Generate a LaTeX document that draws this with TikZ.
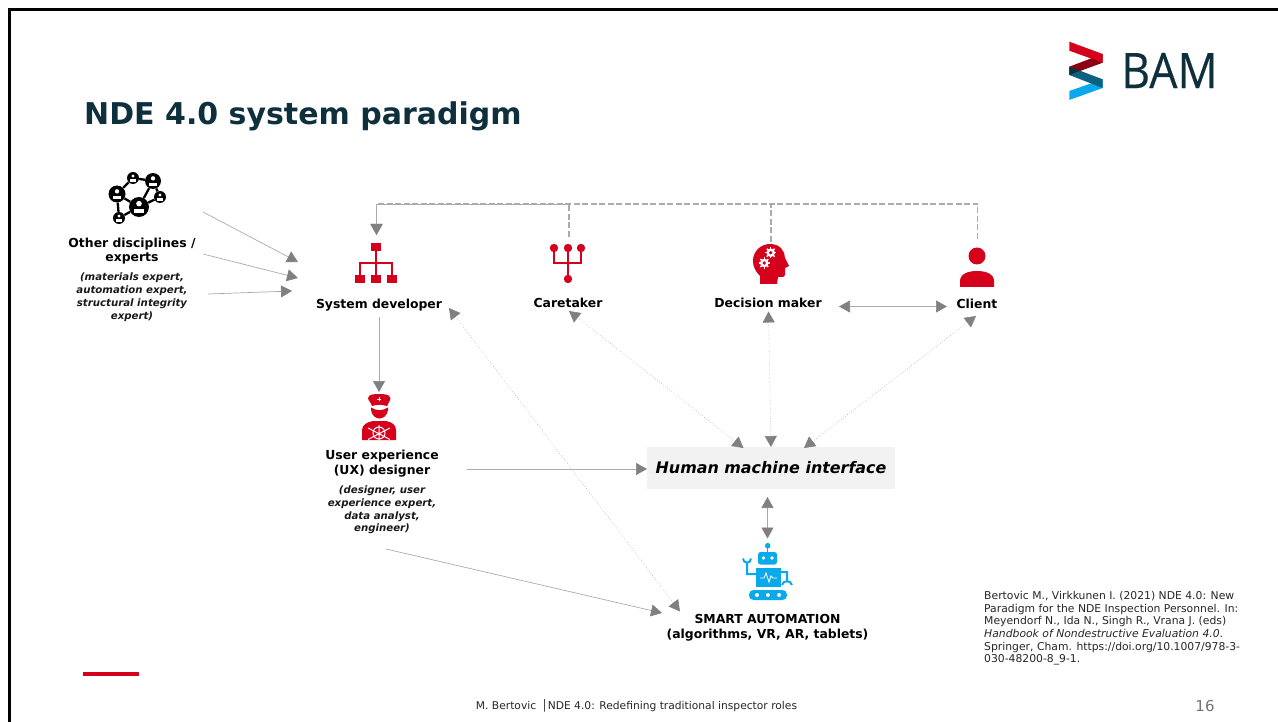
\documentclass[tikz,border=0pt]{standalone}
\usepackage{fontspec}
\setmainfont{DejaVu Sans}
\newfontfamily\logofont[FakeBold=0.3]{Open Sans}
\usetikzlibrary{arrows.meta, positioning}
\definecolor{bamred}{HTML}{D5001C}
\definecolor{bamblue}{HTML}{0AA9EC}
\definecolor{bamdark}{HTML}{0E2F3C}
\definecolor{tipgray}{HTML}{808080}
\definecolor{linegray}{HTML}{ABABAB}
\tikzset{%
    role/.style = {font=\bfseries\fontsize{12.4}{14.5}\selectfont, align=center, inner sep=0pt, text=black},
    sublabel/.style = {font=\bfseries\itshape\fontsize{10.2}{12.8}\selectfont, align=center, inner sep=0pt, text=black!90},
    cite/.style = {font=\fontsize{10.8}{12.7}\selectfont, align=left, inner sep=0pt, text=black!85, anchor=north west},
    foot/.style = {font=\fontsize{10.7}{12}\selectfont, inner sep=0pt, text=black!85},
    solidline/.style = {draw=linegray, line width=0.7pt},
    dotline/.style = {draw=linegray, line width=0.6pt, dotted},
    dashline/.style = {draw=linegray, line width=1.2pt, dash pattern=on 6pt off 2.5pt},
    tip/.tip = {Triangle[length=11pt, width=12pt, color=tipgray]},
    peer/.style = {fill=black, circle, inner sep=0pt, minimum size=#1}
}
\begin{document}
\begin{tikzpicture}[x=1pt, y=-1pt]
    \useasboundingbox (0,0) rectangle (1278,722);
    \draw[line width=3pt, line join=miter] (1278,10) -- (9,10) -- (9,722);
    \fill[bamred] (83,672) rectangle (139,675.6);

    \node [font=\bfseries\fontsize{30}{34}\selectfont, text=bamdark, inner sep=0pt, anchor=west] (title) at (84,116.5) {NDE 4.0 system paradigm};

    % logo
    \fill[bamblue] (1102.7,79.3) -- (1102.7,88) -- (1069.3,100) -- (1069.3,91) -- cycle;
    \fill[bamred!65!black] (1102.7,54) -- (1102.7,62.7) -- (1069.3,75) -- (1069.3,66.7) -- cycle;
    \fill[bamred] (1069.3,41.7) -- (1102.7,54) -- (1102.7,62.7) -- (1069.3,50.7) -- cycle;
    \fill[bamdark!60!bamblue] (1069.3,66.7) -- (1102.7,79.3) -- (1102.7,88) -- (1069.3,75) -- cycle;
    \fill[bamdark] (1069.3,66.7) -- (1080,70.8) -- (1069.3,75) -- cycle;
    \node [font=\logofont\fontsize{49}{50}\selectfont, text=bamdark, inner sep=0pt, xscale=0.91, transform shape] (logo) at (1169.5,70.5) {BAM};

    % network icon
    \foreach \name/\px/\py/\sz in {netA/117/194/17, netB/153/181/16, netC/139/207/20, netD/133/178/12, netE/160/197/12, netF/119/218/12}
        \node [peer=\sz pt] (\name) at (\px,\py) {};
    \draw[line width=2.3pt] (netA) -- (netD) -- (netB) -- (netC) -- (netA) -- (netF) -- (netC) -- (netE) -- (netB);
    \foreach \name/\rr in {netA/2.2, netB/2.2, netC/2.8, netD/1.6, netE/1.6, netF/1.6} {
        \fill[white] ([yshift=1.2*\rr pt]\name.center) circle[radius=\rr pt];
        \fill[white] ([xshift=-1.8*\rr pt, yshift=-2.3*\rr pt]\name.center) rectangle ([xshift=1.8*\rr pt, yshift=-0.7*\rr pt]\name.center);
    }

    \node [role] (other) at (132,251) {Other disciplines /\\experts};
    \node [sublabel, below=8.5pt of other] (otherSub) {(materials expert,\\automation expert,\\structural integrity\\expert)};

    % system developer icon
    \foreach \px in {355,371,387}
        \fill[bamred] (\px,275) rectangle ++(10,8.5);
    \fill[bamred] (371,243) rectangle (381,251.5);
    \draw[bamred, line width=1.1pt] (376,251) -- (376,276) (360,276) -- (360,263) -- (392,263) -- (392,276);
    \node [role] (sysdev) at (379,305) {System developer};

    % caretaker icon
    \foreach \px in {554,568,581}
        \fill[bamred] (\px,248) circle[radius=4.2pt];
    \fill[bamred] (568,279) circle[radius=4.2pt];
    \draw[bamred, line width=1.1pt] (554,248) -- (554,263) -- (581,263) -- (581,248) (568,248) -- (568,278);
    \node [role] (care) at (568,303) {Caretaker};

    % decision maker icon
    \fill[bamred] (760,284) -- (760,276) .. controls (755,271) and (753,266) .. (753,261)
        .. controls (753,251) and (761,244) .. (770,244) .. controls (780,244) and (785,251) .. (785,258)
        -- (789,266) -- (785,268) -- (785,275) .. controls (785,277) and (783,277) .. (778,277) -- (777,284) -- cycle;
    \foreach \gx/\gy in {770.7/252.7, 764.3/263} {
        \foreach \ang in {0,45,...,315}
            \draw[white, line width=1.4pt] (\gx,\gy) -- ++(\ang:5.6pt);
        \fill[white] (\gx,\gy) circle[radius=4.3pt];
        \fill[bamred] (\gx,\gy) circle[radius=1.9pt];
    }
    \node [role] (decision) at (768,303) {Decision maker};

    % client icon
    \fill[bamred] (977,256) circle[radius=8.5pt];
    \fill[bamred] (960,287) -- (960,281) .. controls (960,274) and (968,271) .. (977,271)
        .. controls (986,271) and (994,274) .. (994,281) -- (994,287) -- cycle;
    \node [role] (client) at (977,303.5) {Client};

    % ux designer icon
    \fill[bamred] (370,402) .. controls (365,396) and (370,394) .. (379,394)
        .. controls (388,394) and (393,396) .. (389,402) -- (387,406) .. controls (382,404.5) and (376,404.5) .. (372,406) -- cycle;
    \draw[white, line width=0.5pt] (377,399) -- (381,399) (379,397) -- (379,401);
    \fill[bamred] (371,407.5) .. controls (376,411) and (383,411) .. (388,407.5) -- (388,410)
        .. controls (387,416) and (383,418.5) .. (379.5,418.5) .. controls (376,418.5) and (372,416) .. (371,410) -- cycle;
    \fill[bamred] (362,440) -- (362,430) .. controls (362,425) and (367,422) .. (373,421) -- (386,421)
        .. controls (392,422) and (396,425) .. (396,430) -- (396,440) -- cycle;
    \draw[white, line width=1pt] (379,433) circle[radius=6pt];
    \draw[white, line width=1pt] (368,428) -- (390,439.5) (390,428) -- (368,439.5) (379,425) -- (379,440);
    \node [role] (ux) at (382,463.5) {User experience\\(UX) designer};
    \node [sublabel, below=8.5pt of ux] (uxSub) {(designer, user\\experience expert,\\data analyst,\\engineer)};

    % interface
    \node [fill=black!5, minimum width=248pt, minimum height=42pt, inner sep=0pt,
        font=\bfseries\itshape\fontsize{15.9}{18}\selectfont, text=black] (hmi) at (771,468) {Human machine interface};

    % robot icon
    \fill[bamblue] (767.7,545.7) circle[radius=2.8pt];
    \draw[bamblue, line width=1.4pt] (767.7,546) -- (767.7,553);
    \fill[bamblue, rounded corners=2.5pt] (758,552) rectangle (777,564.5);
    \fill[white] (763.5,558) circle[radius=1.8pt] (772,558) circle[radius=1.8pt];
    \fill[bamblue] (756,568) rectangle (781,587);
    \draw[white, line width=0.9pt] (760,578) -- (764,578) -- (766,573) -- (769,582) -- (771,576) -- (773,578) -- (777,578);
    \draw[bamblue, line width=2pt] (756,574) -- (747,574) -- (747,563) (743,558.5) .. controls (743,564) and (751,564) .. (751,558.5);
    \draw[bamblue, line width=2pt] (781,572) -- (787,572) -- (787,582) (782,585) .. controls (783,580) and (791,580) .. (792,585);
    \fill[bamblue, rounded corners=4.5pt] (749,590) rectangle (787,600);
    \foreach \px in {757,768,779}
        \fill[white] (\px,595) circle[radius=2pt];
    \node [role] (smart) at (767.5,627.5) {SMART AUTOMATION\\(algorithms, VR, AR, tablets)};

    \node [cite] (ref) at (984,591) {Bertovic M., Virkkunen I. (2021) NDE 4.0: New\\Paradigm for the NDE Inspection Personnel. In:\\Meyendorf N., Ida N., Singh R., Vrana J. (eds)\\\textit{Handbook of Nondestructive Evaluation 4.0}.\\Springer, Cham. https://doi.org/10.1007/978-3-\\030-48200-8\_9-1.};
    \node [foot] (footer) at (636.5,706) {M. Bertovic \,│NDE 4.0: Redefining traditional inspector roles};
    \node [font=\fontsize{15}{18}\selectfont, text=black!55, inner sep=0pt] (page) at (1205,706) {16};

    % connector ends
    \coordinate (otherA) at (203,212);
    \coordinate (otherB) at (203,254);
    \coordinate (otherC) at (208,294);
    \coordinate (sysA) at (298,262);
    \coordinate (sysB) at (298,278);
    \coordinate (sysC) at (292,291);
    \coordinate (sysTop) at (376.5,235);
    \coordinate (sysBase) at (379,317);
    \coordinate (sysSide) at (449,308);
    \coordinate (uxTop) at (379,392);
    \coordinate (uxRight) at (467,469);
    \coordinate (uxBase) at (386,549);
    \coordinate (careTop) at (569,237);
    \coordinate (careBase) at (569,311);
    \coordinate (decTop) at (771,242);
    \coordinate (decBase) at (768.5,311.5);
    \coordinate (decSide) at (839,306.5);
    \coordinate (clientTop) at (977.5,239);
    \coordinate (clientBase) at (976,316);
    \coordinate (clientSide) at (947,306.5);
    \coordinate (hmiA) at (743.5,448);
    \coordinate (hmiB) at (771,447);
    \coordinate (hmiC) at (804,448);
    \coordinate (hmiSide) at (647,469);
    \coordinate (hmiDown) at (767.5,497);
    \coordinate (robotTop) at (767.5,538.5);
    \coordinate (smartA) at (662,613);
    \coordinate (smartB) at (680,611.5);

    \path[every edge/.style={solidline, -tip}]
    (otherA) edge (sysA) (otherB) edge (sysB) (otherC) edge (sysC)
    (sysBase) edge (uxTop) (uxRight) edge (hmiSide) (uxBase) edge (smartA);
    \path[every edge/.style={solidline, tip-tip}]
    (decSide) edge (clientSide) (hmiDown) edge (robotTop);
    \path[every edge/.style={dotline, tip-tip}]
    (sysSide) edge (smartB) (careBase) edge (hmiA) (decBase) edge (hmiB) (clientBase) edge (hmiC);
    \draw[dashline, -tip] (careTop) |- ([yshift=-0.4pt]sysTop |- 0,204) -- (sysTop);
    \draw[dashline, -tip] (decTop) |- (sysTop |- 0,204) -- (sysTop);
    \draw[dashline] (clientTop) |- ([xshift=-3pt]decTop |- 0,204);
\end{tikzpicture}
\end{document}
